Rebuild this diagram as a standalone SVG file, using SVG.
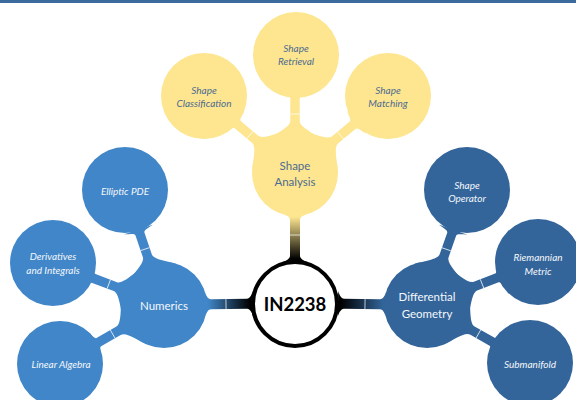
<svg xmlns="http://www.w3.org/2000/svg" xmlns:xlink="http://www.w3.org/1999/xlink" width="576" height="400" viewBox="0 0 576 400">
<style>
.t{font-family:Lato,"Open Sans","DejaVu Sans",sans-serif;text-anchor:middle;dominant-baseline:central}
.p{font-size:11.5px}
.c{font-size:10px;font-style:italic}
.y{fill:#fde68f}.yt{fill:#4d6b91}
.b{fill:#4186c8}.d{fill:#33659a}.wt{fill:#f4f7fb}
.tick{stroke:#ffffff;stroke-width:0.8;opacity:0.9}
</style>
<defs>
<path id="clink" d="M34.2,26 C39.6,18.8 46,4.7 52,4.7 L75,4.7 C77.5,4.7 78.3,11.2 79.7,15 L79.7,-15 C78.3,-11.2 77.5,-4.7 75,-4.7 L52,-4.7 C46,-4.7 39.6,-18.8 34.2,-26 Z"/>
<path id="rlink" d="M41.3,12 C42.4,8.2 44,5 47,5 L83,5 C86,5 88.4,10 89,13 L89,-13 C88.4,-10 86,-5 83,-5 L47,-5 C44,-5 42.4,-8.2 41.3,-12 Z"/>
<linearGradient id="gy" gradientUnits="userSpaceOnUse" x1="44" y1="0" x2="86" y2="0"><stop offset="0" stop-color="#fde68f"/><stop offset="1" stop-color="#000000"/></linearGradient>
<linearGradient id="gb" gradientUnits="userSpaceOnUse" x1="44" y1="0" x2="86" y2="0"><stop offset="0" stop-color="#4186c8"/><stop offset="1" stop-color="#000000"/></linearGradient>
<linearGradient id="gd" gradientUnits="userSpaceOnUse" x1="44" y1="0" x2="86" y2="0"><stop offset="0" stop-color="#33659a"/><stop offset="1" stop-color="#000000"/></linearGradient>
</defs>
<rect x="0" y="0" width="576" height="3" fill="#3a6b9c"/>
<g id="connectors">
<g transform="translate(295,173) rotate(90)"><use xlink:href="#rlink" href="#rlink" fill="url(#gy)"/><line class="tick" x1="62" y1="-5" x2="62" y2="5"/></g>
<g transform="translate(164,305) rotate(-0.87)"><use xlink:href="#rlink" href="#rlink" fill="url(#gb)"/><line class="tick" x1="62" y1="-5" x2="62" y2="5"/></g>
<g transform="translate(427,305) rotate(-179.13)"><use xlink:href="#rlink" href="#rlink" fill="url(#gd)"/><line class="tick" x1="62" y1="-5" x2="62" y2="5"/></g>
<g transform="translate(295,173) rotate(-90)"><use xlink:href="#clink" href="#clink" class="y"/><line class="tick" x1="59" y1="-4.7" x2="59" y2="4.7"/></g>
<g transform="translate(295,173) rotate(-139.8)"><use xlink:href="#clink" href="#clink" class="y"/><line class="tick" x1="59" y1="-4.7" x2="59" y2="4.7"/></g>
<g transform="translate(295,173) rotate(-39.6)"><use xlink:href="#clink" href="#clink" class="y"/><line class="tick" x1="59" y1="-4.7" x2="59" y2="4.7"/></g>
<g transform="translate(164,305) rotate(-108.7)"><use xlink:href="#clink" href="#clink" class="b"/><line class="tick" x1="59" y1="-4.7" x2="59" y2="4.7"/></g>
<g transform="translate(164,305) rotate(-159.3)"><use xlink:href="#clink" href="#clink" class="b"/><line class="tick" x1="59" y1="-4.7" x2="59" y2="4.7"/></g>
<g transform="translate(164,305) rotate(150.4)"><use xlink:href="#clink" href="#clink" class="b"/><line class="tick" x1="59" y1="-4.7" x2="59" y2="4.7"/></g>
<g transform="translate(427,305) rotate(-70.8)"><use xlink:href="#clink" href="#clink" class="d"/><line class="tick" x1="59" y1="-4.7" x2="59" y2="4.7"/></g>
<g transform="translate(427,305) rotate(-21.2)"><use xlink:href="#clink" href="#clink" class="d"/><line class="tick" x1="59" y1="-4.7" x2="59" y2="4.7"/></g>
<g transform="translate(427,305) rotate(29.4)"><use xlink:href="#clink" href="#clink" class="d"/><line class="tick" x1="59" y1="-4.7" x2="59" y2="4.7"/></g>
</g>
<g id="root"><circle cx="295" cy="304" r="42" fill="#ffffff" stroke="#000000" stroke-width="4"/><text class="t" x="295" y="304" font-size="18.5" font-weight="bold" fill="#000000">IN2238</text></g>
<g id="shape-analysis"><circle class="y" cx="295" cy="173" r="43"/><text class="t p yt" x="295" y="165">Shape</text><text class="t p yt" x="295" y="181">Analysis</text></g>
<g id="shape-retrieval"><circle class="y" cx="296" cy="55" r="43"/><text class="t c yt" x="296" y="47.5">Shape</text><text class="t c yt" x="296" y="61">Retrieval</text></g>
<g id="shape-classification"><circle class="y" cx="204" cy="96" r="43"/><text class="t c yt" x="204" y="90">Shape</text><text class="t c yt" x="204" y="103">Classification</text></g>
<g id="shape-matching"><circle class="y" cx="388" cy="96" r="43"/><text class="t c yt" x="388" y="89.5">Shape</text><text class="t c yt" x="388" y="102.5">Matching</text></g>
<g id="numerics"><circle class="b" cx="164" cy="305" r="43"/><text class="t p wt" x="164" y="305">Numerics</text></g>
<g id="elliptic-pde"><circle class="b" cx="125" cy="190" r="43"/><text class="t c wt" x="125" y="191">Elliptic PDE</text></g>
<g id="derivatives"><circle class="b" cx="53" cy="263" r="43"/><text class="t c wt" x="53" y="256">Derivatives</text><text class="t c wt" x="53" y="270">and Integrals</text></g>
<g id="linear-algebra"><circle class="b" cx="60" cy="364" r="43"/><text class="t c wt" x="61" y="364">Linear Algebra</text></g>
<g id="differential-geometry"><circle class="d" cx="427" cy="305" r="43"/><text class="t p wt" x="427" y="296">Differential</text><text class="t p wt" x="427" y="313">Geometry</text></g>
<g id="shape-operator"><circle class="d" cx="467" cy="190" r="43"/><text class="t c wt" x="467" y="184.5">Shape</text><text class="t c wt" x="467" y="197.5">Operator</text></g>
<g id="riemannian-metric"><circle class="d" cx="538" cy="262" r="43"/><text class="t c wt" x="538" y="256.5">Riemannian</text><text class="t c wt" x="538" y="270.5">Metric</text></g>
<g id="submanifold"><circle class="d" cx="530" cy="363" r="43"/><text class="t c wt" x="530" y="364">Submanifold</text></g>
</svg>
